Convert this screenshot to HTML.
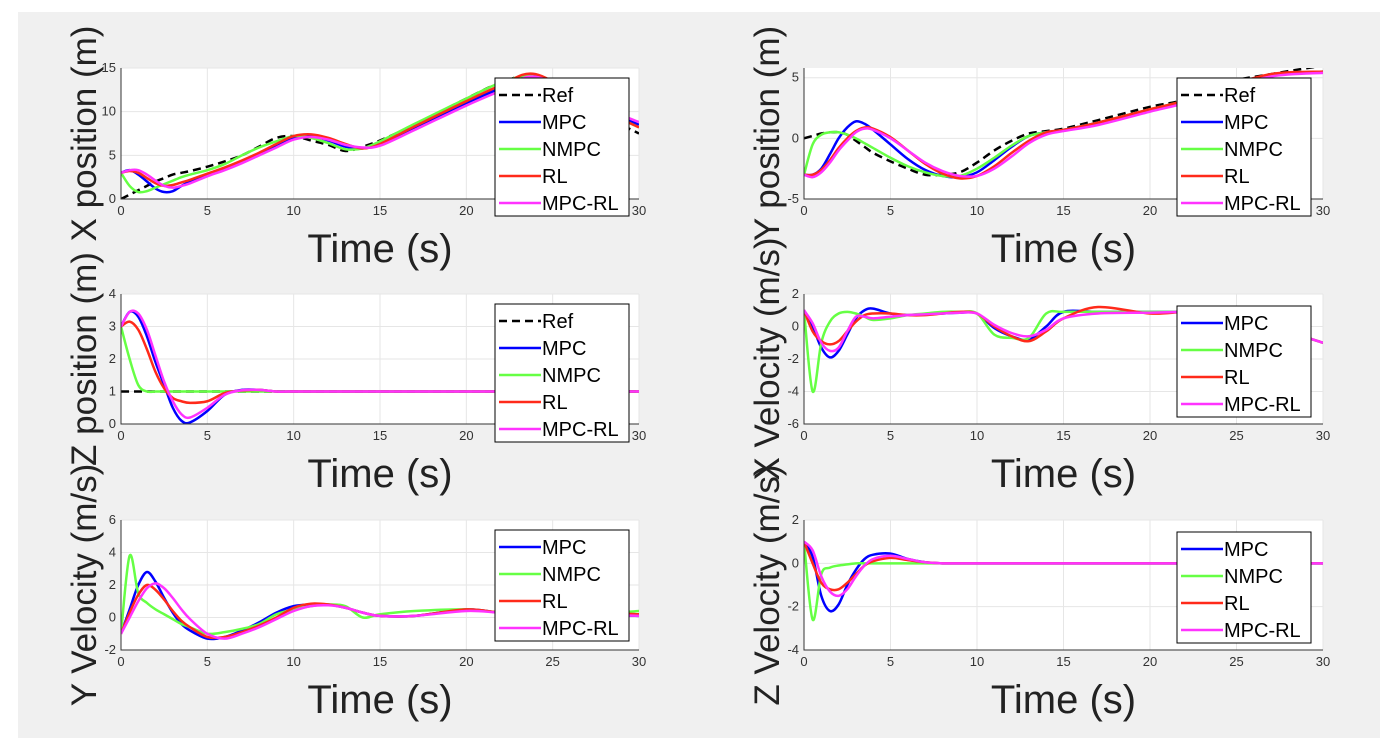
<!DOCTYPE html>
<html><head><meta charset="utf-8"><style>
body{margin:0;background:#fff;width:1396px;height:746px;overflow:hidden;font-family:"Liberation Sans",Arial,sans-serif}
</style></head><body>
<svg id="fig" width="1396" height="746" xmlns="http://www.w3.org/2000/svg" style="font-family:'Liberation Sans',Arial,sans-serif">
<rect x="18" y="12" width="1362" height="726" fill="#f0f0f0"/>
</svg>
<script>
const T=[0,0.5,1,1.5,2,2.5,3,3.5,4,5,6,7,8,9,10,11,12,13,14,15,17,20,22,24,27,30];
const xRef=[0,0.5,1,1.5,2,2.4,2.8,3,3.2,3.7,4.3,5,6,7,7.2,6.7,6.2,5.5,6,6.7,8.5,11.5,13.3,14,10.5,7.5];
const xMPC=[3,3.3,2.8,2,1.2,0.8,0.9,1.5,2,2.8,3.5,4.3,5.2,6.1,7,7.2,6.7,6,5.8,6.3,8.2,11,12.7,14.2,11,8.5];
const xNMPC=[3,1.5,0.8,0.9,1.3,1.7,2.1,2.5,2.8,3.3,4,5,5.9,6.6,7.2,7,6.4,5.7,5.8,6.6,8.6,11.5,13.3,14,11,8.2];
const xRL=[3,3.2,3,2.4,1.8,1.5,1.6,1.9,2.2,2.9,3.6,4.4,5.3,6.3,7.2,7.4,7,6.3,5.8,6.3,8.3,11.2,13,14.3,11,8.2];
const xMPCRL=[3,3.3,3.3,2.8,2.1,1.5,1.3,1.5,1.8,2.6,3.3,4.1,5,5.9,6.8,7.1,6.8,6.2,5.9,6.1,7.9,10.7,12.4,14,11.2,8.8];
const yRef=[0,0.2,0.4,0.5,0.5,0.3,-0.2,-0.7,-1.2,-1.9,-2.5,-3,-3,-2.8,-2,-1,-0.2,0.4,0.6,0.8,1.5,2.6,3.2,4.5,5.3,6];
const yMPC=[-3,-3,-2.5,-1.3,0,0.9,1.4,1.2,0.7,-0.5,-1.7,-2.6,-3.1,-3.2,-2.8,-1.8,-0.7,0.2,0.5,0.7,1.3,2.3,3,4,5.2,5.5];
const yNMPC=[-3,-0.5,0.3,0.5,0.5,0.3,0,-0.4,-0.8,-1.6,-2.3,-2.8,-3.1,-3.1,-2.5,-1.6,-0.6,0.2,0.5,0.7,1.3,2.4,3.1,4.1,5.2,5.5];
const yRL=[-3,-3,-2.6,-1.8,-0.8,0,0.6,0.9,0.8,0.1,-1,-2.1,-2.9,-3.3,-3.1,-2.3,-1.2,-0.2,0.5,0.7,1.3,2.4,3.1,4.1,5.3,5.5];
const yMPCRL=[-3,-3.2,-2.8,-2,-1,-0.2,0.5,0.8,0.7,0,-1,-2,-2.7,-3.1,-3.1,-2.5,-1.5,-0.4,0.3,0.6,1.1,2.2,2.9,3.9,5.1,5.4];
const zRef=[1,1,1,1,1,1,1,1,1,1,1,1,1,1,1,1,1,1,1,1,1,1,1,1,1,1];
const zMPC=[3,3.45,3.3,2.7,1.9,1.2,0.5,0.1,0.05,0.4,0.9,1.05,1.05,1,1,1,1,1,1,1,1,1,1,1,1,1];
const zNMPC=[3,2,1.2,1,1,1,1,1,1,1,1,1,1,1,1,1,1,1,1,1,1,1,1,1,1,1];
const zRL=[3,3.15,2.9,2.3,1.6,1.1,0.8,0.7,0.65,0.7,0.95,1.03,1.05,1,1,1,1,1,1,1,1,1,1,1,1,1];
const zMPCRL=[3,3.45,3.4,2.9,2.1,1.3,0.7,0.3,0.2,0.5,0.9,1.04,1.05,1,1,1,1,1,1,1,1,1,1,1,1,1];
const vyMPC=[-1,0.5,2,2.8,2.2,1.2,0.3,-0.4,-0.8,-1.3,-1.2,-0.8,-0.3,0.3,0.7,0.8,0.8,0.6,0.3,0.1,0.1,0.5,0.3,0.3,0.2,0.1];
const vyNMPC=[-1,3.8,1.5,0.9,0.5,0.2,-0.1,-0.4,-0.6,-1,-0.9,-0.7,-0.4,0.2,0.5,0.7,0.8,0.7,0,0.2,0.4,0.5,0.3,0.2,0.2,0.4];
const vyRL=[-1,0.3,1.4,2,1.7,1.1,0.4,-0.2,-0.6,-1.2,-1.2,-0.9,-0.5,0,0.6,0.85,0.8,0.6,0.3,0.1,0.1,0.5,0.3,0.3,0.3,0.2];
const vyMPCRL=[-1,0,1,1.8,2.1,1.8,1.2,0.5,-0.1,-1,-1.3,-1,-0.6,-0.1,0.4,0.7,0.75,0.6,0.3,0.1,0.1,0.4,0.3,0.3,0.2,0.1];
const vxMPC=[1,0,-1.3,-1.9,-1.5,-0.5,0.5,1,1.1,0.8,0.7,0.75,0.8,0.85,0.8,-0.1,-0.6,-0.8,0,0.9,0.9,0.9,0.9,0.9,0,-1];
const vxNMPC=[1,-4,-1,0.3,0.8,0.9,0.8,0.6,0.4,0.5,0.7,0.8,0.9,0.9,0.8,-0.5,-0.7,-0.7,0.8,0.9,0.9,0.9,0.9,0.9,0,-1];
const vxRL=[1,-0.3,-0.9,-1.1,-0.9,-0.3,0.3,0.7,0.8,0.8,0.7,0.7,0.8,0.9,0.8,0,-0.6,-0.9,-0.3,0.5,1.2,0.8,0.9,0.9,0,-1];
const vxMPCRL=[1,0.2,-1,-1.5,-1.3,-0.3,0.6,0.6,0.5,0.6,0.7,0.75,0.8,0.85,0.8,0.1,-0.4,-0.6,-0.2,0.5,0.8,0.85,0.9,0.9,0,-1];
const vzMPC=[1,0.3,-1.5,-2.2,-1.9,-1,-0.3,0.2,0.4,0.45,0.2,0.05,0,0,0,0,0,0,0,0,0,0,0,0,0,0];
const vzNMPC=[1,-2.6,-0.5,-0.2,-0.1,-0.05,0,0,0,0,0,0,0,0,0,0,0,0,0,0,0,0,0,0,0,0];
const vzRL=[1,0,-0.9,-1.2,-1.2,-0.9,-0.5,-0.1,0.1,0.25,0.15,0.05,0,0,0,0,0,0,0,0,0,0,0,0,0,0];
const vzMPCRL=[1,0.6,-0.6,-1.3,-1.5,-1.2,-0.6,-0.1,0.2,0.35,0.2,0.05,0,0,0,0,0,0,0,0,0,0,0,0,0,0];
const xTicks=[0,5,10,15,20,25,30];

const NS="http://www.w3.org/2000/svg";
const svg=document.getElementById('fig');
const COL={Ref:'#000',MPC:'#0000ff',NMPC:'#66ff44',RL:'#ff2a1a','MPC-RL':'#ff33ff'};
function mk(tag,attrs,parent){const e=document.createElementNS(NS,tag);for(const k in attrs)e.setAttribute(k,attrs[k]);(parent||svg).appendChild(e);return e;}
function smooth(pts){let d=`M${pts[0][0]},${pts[0][1]}`;for(let i=0;i<pts.length-1;i++){const p0=pts[Math.max(0,i-1)],p1=pts[i],p2=pts[i+1],p3=pts[Math.min(pts.length-1,i+2)];
d+=` C${p1[0]+(p2[0]-p0[0])/6},${p1[1]+(p2[1]-p0[1])/6} ${p2[0]-(p3[0]-p1[0])/6},${p2[1]-(p3[1]-p1[1])/6} ${p2[0]},${p2[1]}`;}return d;}
function plot(cfg){
 const {x0,x1,y0,y1,ymin,ymax,yTicks,ylabel,series,legend,name}=cfg;
 const g=mk('g',{});
 
 
 const sx=v=>x0+(v/30)*(x1-x0), sy=v=>y1-(v-ymin)/(ymax-ymin)*(y1-y0);
 mk('rect',{x:x0,y:y0,width:x1-x0,height:y1-y0,fill:'#fff'},g);
 xTicks.forEach(t=>{mk('line',{x1:sx(t),x2:sx(t),y1:y0,y2:y1,stroke:'#e6e6e6'},g);
  const tl=mk('text',{x:sx(t),y:y1+16,'font-size':13,fill:'#333','text-anchor':'middle'},g);tl.textContent=t;
  
  });
 yTicks.forEach(t=>{mk('line',{x1:x0,x2:x1,y1:sy(t),y2:sy(t),stroke:'#e6e6e6'},g);
  const tl=mk('text',{x:x0-5,y:sy(t)+4,'font-size':13,fill:'#333','text-anchor':'end'},g);tl.textContent=t;
  
  });
 const cp=mk('clipPath',{id:'c'+name},g);mk('rect',{x:x0,y:y0,width:x1-x0,height:y1-y0},cp);
 series.forEach(([lab,arr])=>{
  const p=mk('path',{d:smooth(T.map((t,i)=>[sx(t),sy(arr[i])])),fill:'none',stroke:COL[lab],'stroke-width':2.5,'clip-path':`url(#c${name})`,'stroke-dasharray':lab==='Ref'?'8,5':'none'},g);
  
  
 });
 mk('path',{d:`M${x0},${y0}V${y1}H${x1}`,fill:'none',stroke:'#333','stroke-width':1},g);
 const xl=mk('text',{x:(x0+x1)/2,y:y1+63,'font-size':40,fill:'#222','text-anchor':'middle'},g);xl.textContent='Time (s)';
 
 
 const yl=mk('text',{x:0,y:0,'font-size':35,fill:'#222','text-anchor':'middle',transform:`translate(${x0-25},${(y0+y1)/2}) rotate(-90)`},g);yl.textContent=ylabel;
 
 
 const [lx,ly]=legend;const lh=series.length*27+3;
 const lg=mk('g',{},g);
 
 
 mk('rect',{x:lx,y:ly,width:134,height:lh,fill:'#fff',stroke:'#000'},lg);
 series.forEach(([lab],i)=>{const yy=ly+17+i*27;
  mk('line',{x1:lx+4,x2:lx+46,y1:yy,y2:yy,stroke:COL[lab],'stroke-width':2.5,'stroke-dasharray':lab==='Ref'?'8,5':'none'},lg);
  const t=mk('text',{x:lx+47,y:yy+7,'font-size':20,fill:'#000'},lg);t.textContent=lab;
  
  });
}
const L=[121,639],R=[804,1323];
plot({name:'x-position-plot',x0:L[0],x1:L[1],y0:68,y1:199,ymin:0,ymax:15,yTicks:[0,5,10,15],ylabel:'X position (m)',legend:[495,78],
 series:[['Ref',xRef],['MPC',xMPC],['NMPC',xNMPC],['RL',xRL],['MPC-RL',xMPCRL]]});
plot({name:'y-position-plot',x0:R[0],x1:R[1],y0:68,y1:199,ymin:-5,ymax:5.8,yTicks:[-5,0,5],ylabel:'Y position (m)',legend:[1177,78],
 series:[['Ref',yRef],['MPC',yMPC],['NMPC',yNMPC],['RL',yRL],['MPC-RL',yMPCRL]]});
plot({name:'z-position-plot',x0:L[0],x1:L[1],y0:294,y1:424,ymin:0,ymax:4,yTicks:[0,1,2,3,4],ylabel:'Z position (m)',legend:[495,304],
 series:[['Ref',zRef],['MPC',zMPC],['NMPC',zNMPC],['RL',zRL],['MPC-RL',zMPCRL]]});
plot({name:'x-velocity-plot',x0:R[0],x1:R[1],y0:294,y1:424,ymin:-6,ymax:2,yTicks:[-6,-4,-2,0,2],ylabel:'X Velocity (m/s)',legend:[1177,306],
 series:[['MPC',vxMPC],['NMPC',vxNMPC],['RL',vxRL],['MPC-RL',vxMPCRL]]});
plot({name:'y-velocity-plot',x0:L[0],x1:L[1],y0:520,y1:650,ymin:-2,ymax:6,yTicks:[-2,0,2,4,6],ylabel:'Y Velocity (m/s)',legend:[495,530],
 series:[['MPC',vyMPC],['NMPC',vyNMPC],['RL',vyRL],['MPC-RL',vyMPCRL]]});
plot({name:'z-velocity-plot',x0:R[0],x1:R[1],y0:520,y1:650,ymin:-4,ymax:2,yTicks:[-4,-2,0,2],ylabel:'Z Velocity (m/s)',legend:[1177,532],
 series:[['MPC',vzMPC],['NMPC',vzNMPC],['RL',vzRL],['MPC-RL',vzMPCRL]]});
</script>
</body></html>
